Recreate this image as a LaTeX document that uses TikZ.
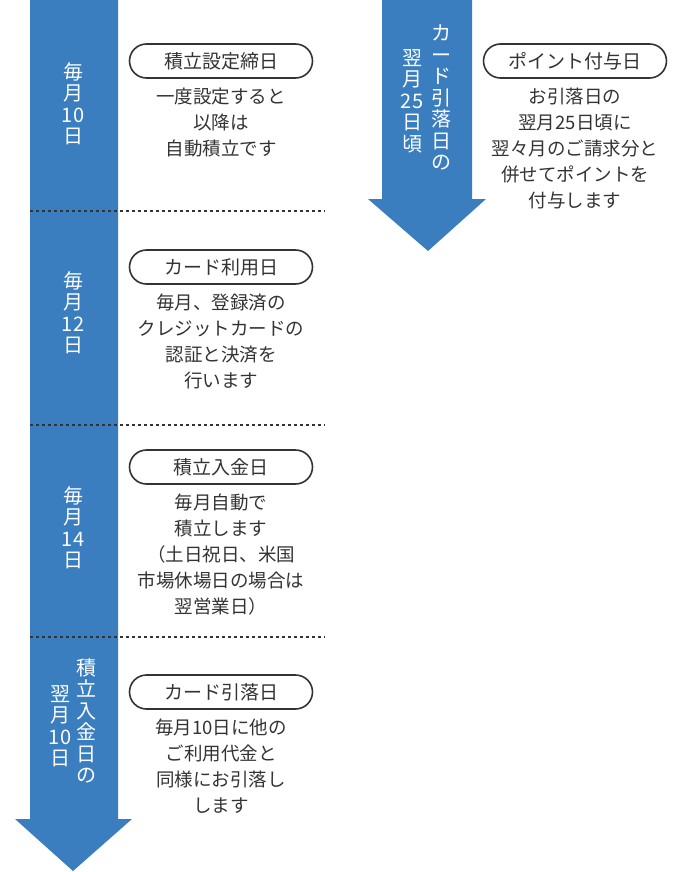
\documentclass[tikz,border=0pt]{standalone}
\usepackage{fontspec}
\usepackage{xcolor}
\usepackage{tikz}
\usetikzlibrary{positioning}
\setmainfont{Noto Sans CJK JP}
\definecolor{flowblue}{HTML}{3A7EBF}
\definecolor{inkgray}{HTML}{333333}
\tikzset{
  pill/.style={draw=inkgray, line width=1.6pt, rounded corners=17pt, minimum width=183pt,
    minimum height=34pt, text=inkgray, font=\fontsize{19}{19}\selectfont},
  body/.style={align=center, text=inkgray, font=\fontsize{18.5}{26}\selectfont},
  vlabel/.style={align=center, text=white, font=\fontsize{20}{21.5}\selectfont, inner sep=0pt},
  sep/.style={draw=inkgray, line width=1.2pt, dash pattern=on 3pt off 3pt}
}
\begin{document}
\begin{tikzpicture}[x=1pt, y=-1pt]
  \useasboundingbox (0,0) rectangle (690,872);
  % blue arrows
  \fill[flowblue] (30,0) -- (118,0) -- (118,819) -- (132,819) -- (73,871) -- (15,819) -- (30,819) -- cycle;
  \fill[flowblue] (382,0) -- (472,0) -- (472,199) -- (486,199) -- (428,251) -- (368,199) -- (382,199) -- cycle;
  % separators
  \coordinate (s1a) at (30,211); \coordinate (s1b) at (325,211);
  \coordinate (s2a) at (30,425); \coordinate (s2b) at (325,425);
  \coordinate (s3a) at (30,637); \coordinate (s3b) at (325,637);
  \draw[sep] (s1a) -- (s1b);
  \draw[sep] (s2a) -- (s2b);
  \draw[sep] (s3a) -- (s3b);
  % labels in the arrows
  \node[vlabel, anchor=north] (m10) at (73,62) {毎\\月\\10\\日};
  \node[vlabel, anchor=north] (m12) at (73,271) {毎\\月\\12\\日};
  \node[vlabel, anchor=north] (m14) at (73,486) {毎\\月\\14\\日};
  \node[vlabel, anchor=north] (nxa) at (86,658) {積\\立\\入\\金\\日\\の};
  \node[vlabel, anchor=north] (nxb) at (60,685) {翌\\月\\10\\日};
  \node[vlabel, anchor=north] (cda) at (441,25) {カ\\ー\\ド\\引\\落\\日\\の};
  \node[vlabel, anchor=north] (cdb) at (412,49) {翌\\月\\25\\日\\頃};
  % steps
  \node[pill] (setday) at (221,61) {積立設定締日};
  \node[body, below=6pt of setday] (settext) {一度設定すると\\以降は\\自動積立です};
  \node[pill] (useday) at (221,267) {カード利用日};
  \node[body, below=6pt of useday] (usetext) {毎月、登録済の\\クレジットカードの\\認証と決済を\\行います};
  \node[pill] (payday) at (221,467) {積立入金日};
  \node[body, below=6pt of payday] (paytext) {毎月自動で\\積立します\\（土日祝日、米国\\市場休場日の場合は\\翌営業日）};
  \node[pill] (debitday) at (221,692) {カード引落日};
  \node[body, below=6pt of debitday] (debittext) {毎月10日に他の\\ご利用代金と\\同様にお引落し\\します};
  \node[pill] (pointday) at (575,61) {ポイント付与日};
  \node[body, below=6pt of pointday] (pointtext) {お引落日の\\翌月25日頃に\\翌々月のご請求分と\\併せてポイントを\\付与します};
\end{tikzpicture}
\end{document}
